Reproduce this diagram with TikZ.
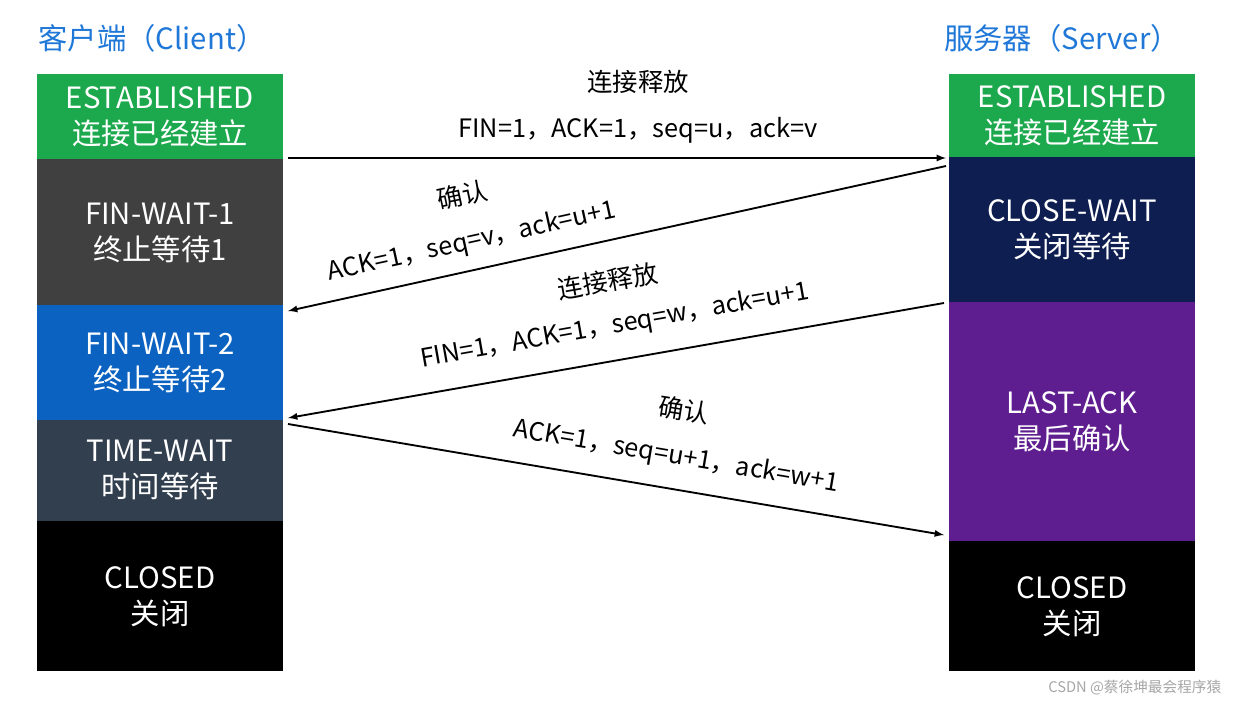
\documentclass[tikz,border=0pt]{standalone}
\usepackage{fontspec}
\setmainfont{Noto Sans CJK SC}
\begin{document}
\begin{tikzpicture}[x=0.75pt,y=-0.75pt,
  st/.style={draw=none,text=white,align=center,font=\fontsize{22}{27}\selectfont,inner sep=0pt},
  lbl/.style={font=\fontsize{19}{22}\selectfont,inner sep=0pt},
  msg/.style={-latex,line width=1.4pt}]
\useasboundingbox (0,0) rectangle (1234,706);
\definecolor{cg}{HTML}{1CA84C}\definecolor{cdg}{HTML}{404040}\definecolor{cb}{HTML}{0B62C0}
\definecolor{csl}{HTML}{323F4F}\definecolor{cnv}{HTML}{0E1E50}\definecolor{cpu}{HTML}{5F1E8F}
\definecolor{ct}{HTML}{1F78D8}
% client
\fill[cg] (37,74) rectangle (283,159);
\fill[cdg] (37,159) rectangle (283,305);
\fill[cb] (37,305) rectangle (283,420);
\fill[csl] (37,420) rectangle (283,521);
\fill[black] (37,521) rectangle (283,671);
\node[st] (c1) at (160,117) {ESTABLISHED\\连接已经建立};
\node[st] (c2) at (160,233) {FIN-WAIT-1\\终止等待1};
\node[st] (c3) at (160,363) {FIN-WAIT-2\\终止等待2};
\node[st] (c4) at (160,470) {TIME-WAIT\\时间等待};
\node[st] (c5) at (160,597) {CLOSED\\关闭};
% server
\fill[cg] (949,74) rectangle (1195,157);
\fill[cnv] (949,157) rectangle (1195,302);
\fill[cpu] (949,302) rectangle (1195,541);
\fill[black] (949,541) rectangle (1195,671);
\node[st] (s1) at (1072,116) {ESTABLISHED\\连接已经建立};
\node[st] (s2) at (1072,230) {CLOSE-WAIT\\关闭等待};
\node[st] (s3) at (1072,422) {LAST-ACK\\最后确认};
\node[st] (s4) at (1072,607) {CLOSED\\关闭};
\node[text=ct,font=\fontsize{22}{26}\selectfont] (tc) at (152,38) {客户端（Client）};
\node[text=ct,font=\fontsize{22}{26}\selectfont] (ts) at (1062,38) {服务器（Server）};
% arrows
\coordinate (a1) at (288,158); \coordinate (b1) at (946,158);
\coordinate (b2) at (946,166); \coordinate (a2) at (288,311);
\coordinate (b3) at (944,303); \coordinate (a3) at (288,418);
\coordinate (a4) at (288,424); \coordinate (b4) at (944,535);
\draw[msg] (a1) -- (b1);
\draw[msg] (b2) -- (a2);
\draw[msg] (b3) -- (a3);
\draw[msg] (a4) -- (b4);
\node[lbl] (l1) at (638,82) {连接释放};
\node[lbl] (l2) at (638,130) {FIN=1，ACK=1，seq=u，ack=v};
\node[lbl,rotate=12] (l3) at (462,195) {确认};
\node[lbl,rotate=12.4] (l4) at (472,242) {ACK=1，seq=v，ack=u+1};
\node[lbl,rotate=10] (l5) at (608,281) {连接释放};
\node[lbl,rotate=10] (l6) at (615,326) {FIN=1，ACK=1，seq=w，ack=u+1};
\node[lbl,rotate=-9] (l7) at (684,410) {确认};
\node[lbl,rotate=-9.6] (l8) at (676,457) {ACK=1，seq=u+1，ack=w+1};
\node[text=black!35,font=\fontsize{11}{13}\selectfont,anchor=east] (wm) at (1226,688) {CSDN @蔡徐坤最会程序猿};
\end{tikzpicture}
\end{document}
